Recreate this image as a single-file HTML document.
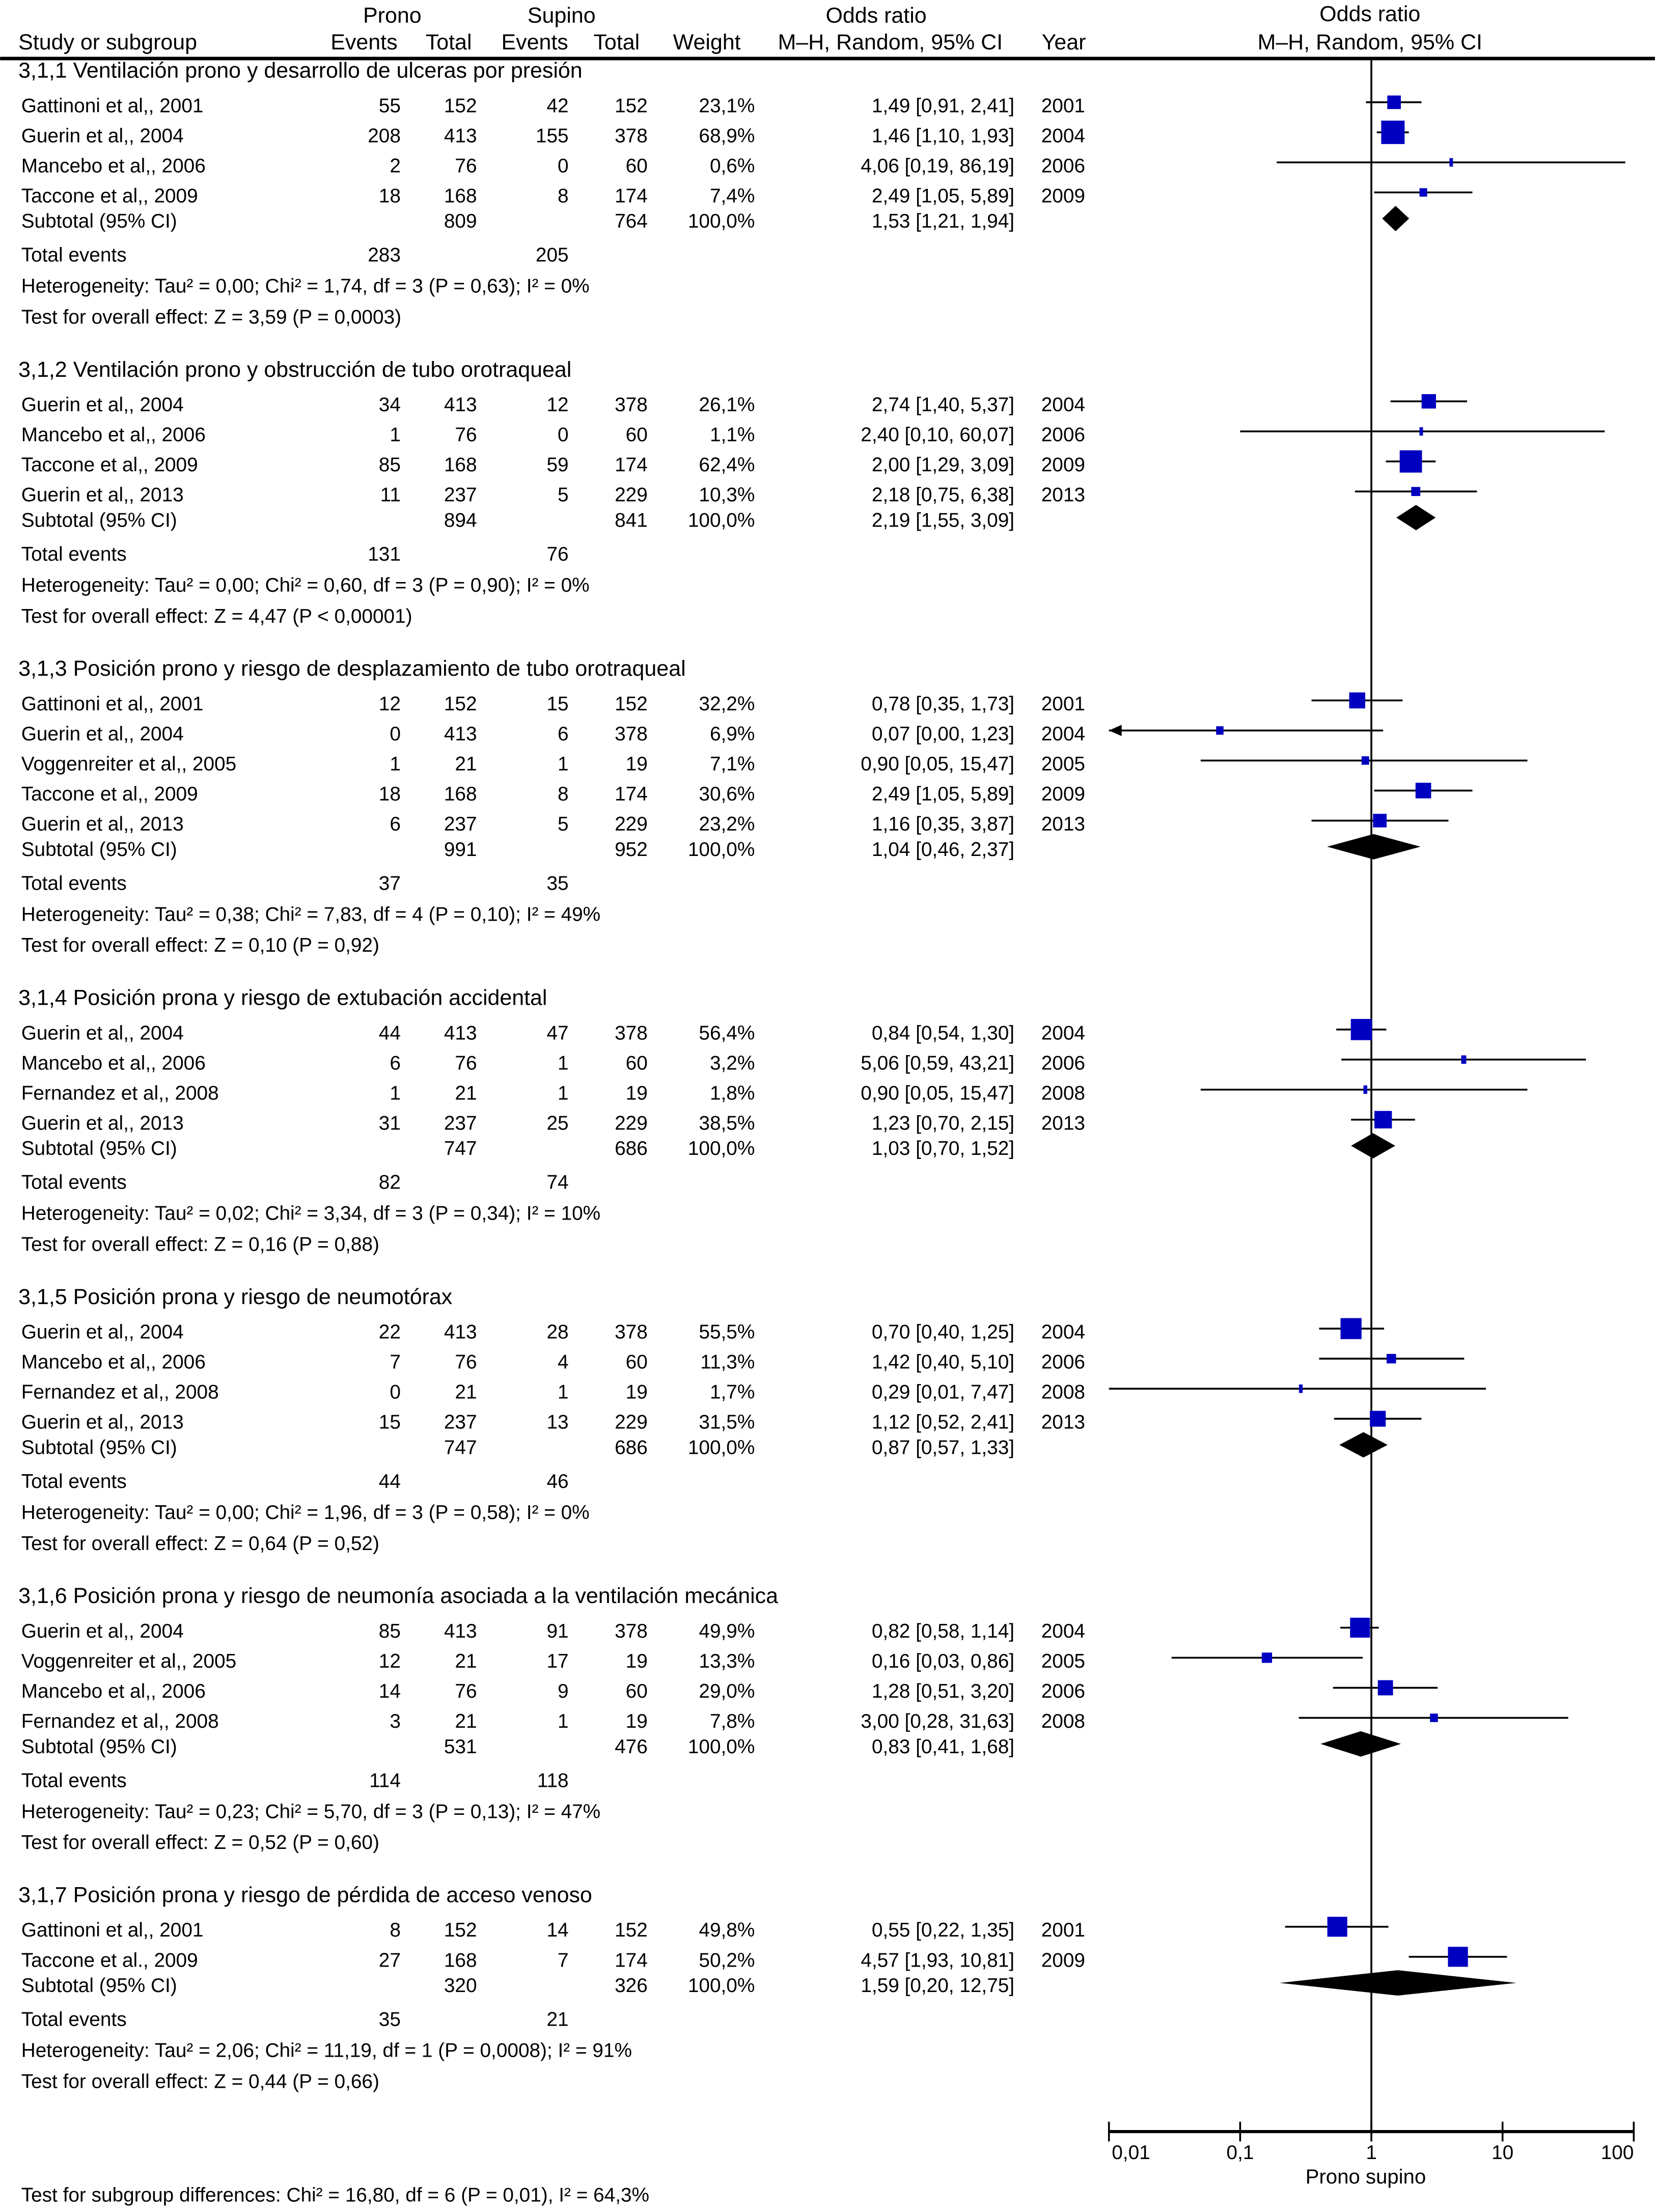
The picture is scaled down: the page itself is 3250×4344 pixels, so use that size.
<!DOCTYPE html>
<html><head><meta charset="utf-8">
<style>
html,body{margin:0;padding:0;background:#fff;}
svg{display:block;}
text{font-family:"Liberation Sans",Arial,sans-serif;fill:#000;}
</style></head>
<body>
<svg id="chart" width="3250" height="4344" viewBox="0 0 1173 1568" xmlns="http://www.w3.org/2000/svg">
<g id="hdr" font-size="15.5">
<text x="278" y="11" text-anchor="middle" dominant-baseline="central">Prono</text>
<text x="398" y="11" text-anchor="middle" dominant-baseline="central">Supino</text>
<text x="621" y="11" text-anchor="middle" dominant-baseline="central">Odds ratio</text>
<text x="971" y="10" text-anchor="middle" dominant-baseline="central">Odds ratio</text>
<text x="13" y="30" dominant-baseline="central">Study or subgroup</text>
<text x="258" y="30" text-anchor="middle" dominant-baseline="central">Events</text>
<text x="318" y="30" text-anchor="middle" dominant-baseline="central">Total</text>
<text x="379" y="30" text-anchor="middle" dominant-baseline="central">Events</text>
<text x="437" y="30" text-anchor="middle" dominant-baseline="central">Total</text>
<text x="501" y="30" text-anchor="middle" dominant-baseline="central">Weight</text>
<text x="631" y="30" text-anchor="middle" dominant-baseline="central">M–H, Random, 95% CI</text>
<text x="754" y="30" text-anchor="middle" dominant-baseline="central">Year</text>
<text x="971" y="30" text-anchor="middle" dominant-baseline="central">M–H, Random, 95% CI</text>
</g>
<line x1="0" y1="41.5" x2="1173" y2="41.5" stroke="#000" stroke-width="2.5"/>
<line x1="972" y1="41" x2="972" y2="1511" stroke="#000" stroke-width="1.3"/>
<g id="body"></g>
<g id="axis"></g>
<text x="968" y="1543" text-anchor="middle" dominant-baseline="central" font-size="14.5">Prono supino</text>
<text x="15" y="1556" dominant-baseline="central" font-size="14">Test for subgroup differences: Chi² = 16,80, df = 6 (P = 0,01), I² = 64,3%</text>
</svg>
<script>
const groupTitles = ["3,1,1 Ventilación prono y desarrollo de ulceras por presión","3,1,2 Ventilación prono y obstrucción de tubo orotraqueal","3,1,3 Posición prono y riesgo de desplazamiento de tubo orotraqueal","3,1,4 Posición prona y riesgo de extubación accidental","3,1,5 Posición prona y riesgo de neumotórax","3,1,6 Posición prona y riesgo de neumonía asociada a la ventilación mecánica","3,1,7 Posición prona y riesgo de pérdida de acceso venoso"];
const studyGroup = [0,0,0,0, 1,1,1,1, 2,2,2,2,2, 3,3,3,3, 4,4,4,4, 5,5,5,5, 6,6];
const studyNames = ["Gattinoni et al,, 2001","Guerin et al,, 2004","Mancebo et al,, 2006","Taccone et al,, 2009",
"Guerin et al,, 2004","Mancebo et al,, 2006","Taccone et al,, 2009","Guerin et al,, 2013",
"Gattinoni et al,, 2001","Guerin et al,, 2004","Voggenreiter et al,,  2005","Taccone et al,, 2009","Guerin et al,, 2013",
"Guerin et al,, 2004","Mancebo et al,, 2006","Fernandez et al,, 2008","Guerin et al,, 2013",
"Guerin et al,, 2004","Mancebo et al,, 2006","Fernandez et al,, 2008","Guerin et al,, 2013",
"Guerin et al,, 2004","Voggenreiter et al,, 2005","Mancebo et al,, 2006","Fernandez et al,, 2008",
"Gattinoni et al,, 2001","Taccone et al., 2009"];
const pronoEvents = [55,208,2,18, 34,1,85,11, 12,0,1,18,6, 44,6,1,31, 22,7,0,15, 85,12,14,3, 8,27];
const pronoTotal = [152,413,76,168, 413,76,168,237, 152,413,21,168,237, 413,76,21,237, 413,76,21,237, 413,21,76,21, 152,168];
const supinoEvents = [42,155,0,8, 12,0,59,5, 15,6,1,8,5, 47,1,1,25, 28,4,1,13, 91,17,9,1, 14,7];
const supinoTotal = [152,378,60,174, 378,60,174,229, 152,378,19,174,229, 378,60,19,229, 378,60,19,229, 378,19,60,19, 152,174];
const weights = [23.1,68.9,0.6,7.4, 26.1,1.1,62.4,10.3, 32.2,6.9,7.1,30.6,23.2, 56.4,3.2,1.8,38.5, 55.5,11.3,1.7,31.5, 49.9,13.3,29.0,7.8, 49.8,50.2];
const orValues = [1.49,1.46,4.06,2.49, 2.74,2.40,2.00,2.18, 0.78,0.07,0.90,2.49,1.16, 0.84,5.06,0.90,1.23, 0.70,1.42,0.29,1.12, 0.82,0.16,1.28,3.00, 0.55,4.57];
const ciLow = [0.91,1.10,0.19,1.05, 1.40,0.10,1.29,0.75, 0.35,0.00,0.05,1.05,0.35, 0.54,0.59,0.05,0.70, 0.40,0.40,0.01,0.52, 0.58,0.03,0.51,0.28, 0.22,1.93];
const ciHigh = [2.41,1.93,86.19,5.89, 5.37,60.07,3.09,6.38, 1.73,1.23,15.47,5.89,3.87, 1.30,43.21,15.47,2.15, 1.25,5.10,7.47,2.41, 1.14,0.86,3.20,31.63, 1.35,10.81];
const years = [2001,2004,2006,2009, 2004,2006,2009,2013, 2001,2004,2005,2009,2013, 2004,2006,2008,2013, 2004,2006,2008,2013, 2004,2005,2006,2008, 2001,2009];
const subPronoTotal = [809,894,991,747,747,531,320];
const subSupinoTotal = [764,841,952,686,686,476,326];
const subOR = [1.53,2.19,1.04,1.03,0.87,0.83,1.59];
const subLow = [1.21,1.55,0.46,0.70,0.57,0.41,0.20];
const subHigh = [1.94,3.09,2.37,1.52,1.33,1.68,12.75];
const totalPronoEvents = [283,131,37,82,44,114,35];
const totalSupinoEvents = [205,76,35,74,46,118,21];
const heteroText = ["Tau² = 0,00; Chi² = 1,74, df = 3 (P = 0,63); I² = 0%","Tau² = 0,00; Chi² = 0,60, df = 3 (P = 0,90); I² = 0%","Tau² = 0,38; Chi² = 7,83, df = 4 (P = 0,10); I² = 49%","Tau² = 0,02; Chi² = 3,34, df = 3 (P = 0,34); I² = 10%","Tau² = 0,00; Chi² = 1,96, df = 3 (P = 0,58); I² = 0%","Tau² = 0,23; Chi² = 5,70, df = 3 (P = 0,13); I² = 47%","Tau² = 2,06; Chi² = 11,19, df = 1 (P = 0,0008); I² = 91%"];
const overallText = ["Z = 3,59 (P = 0,0003)","Z = 4,47 (P < 0,00001)","Z = 0,10 (P = 0,92)","Z = 0,16 (P = 0,88)","Z = 0,64 (P = 0,52)","Z = 0,52 (P = 0,60)","Z = 0,44 (P = 0,66)"];
const axisTicks = [0.01,0.1,1,10,100];
const axisTickLabels = ["0,01","0,1","1","10","100"];

const NS="http://www.w3.org/2000/svg";
const body=document.getElementById('body');
const xMin=786, xMax=1158;
function xs(v){return 972+Math.log10(v)*93;}
function cx(v){return Math.max(xMin,Math.min(xMax,v<=0?-1e9:xs(v)));}
function f2(v){return v.toFixed(2).replace('.',',');}
function mk(tag,attrs,parent){const e=document.createElementNS(NS,tag);for(const k in attrs)e.setAttribute(k,attrs[k]);(parent||body).appendChild(e);return e;}
function txt(x,y,s,anchor,parent,size){const t=mk('text',{x:x,y:y,'dominant-baseline':'central','font-size':size||14,'text-anchor':anchor||'start'},parent);t.textContent=s;return t;}

let y=50;
const step=21.3;
for(let g=0;g<groupTitles.length;g++){
  const grp=mk('g',{});
  
  
  const tt=txt(13,y,groupTitles[g],'start',grp,15.5);
  
  
  let sy=y+25;
  for(let i=0;i<studyNames.length;i++){
    if(studyGroup[i]!==g) continue;
    const row=mk('g',{},grp);
    
    
    txt(15,sy,studyNames[i],'start',row);
    txt(284,sy,String(pronoEvents[i]),'end',row);
    txt(338,sy,String(pronoTotal[i]),'end',row);
    txt(403,sy,String(supinoEvents[i]),'end',row);
    txt(459,sy,String(supinoTotal[i]),'end',row);
    txt(535,sy,weights[i].toFixed(1).replace('.',',')+'%','end',row);
    txt(719,sy,f2(orValues[i])+' ['+f2(ciLow[i])+', '+f2(ciHigh[i])+']','end',row);
    txt(738,sy,String(years[i]),'start',row);
    const my=sy-2.5;
    const x1=cx(ciLow[i]), x2=cx(ciHigh[i]);
    const ci=mk('line',{x1:x1,y1:my,x2:x2,y2:my,stroke:'#000','stroke-width':1.3},row);
    
    
    if(ciLow[i]<0.005){
      const ar=mk('path',{d:`M${xMin} ${my} l9 -4 v8 z`,fill:'#000'},row);
      
      
    }
    const s=Math.max(2.5,Math.sqrt(weights[i])*2.0);
    const sq=mk('rect',{x:xs(orValues[i])-s/2,y:my-Math.max(s,6)/2,width:s,height:Math.max(s,6),fill:'#0000c0'},row);
    
    
    sy+=step;
  }
  sy=sy-step+18;
  txt(15,sy,'Subtotal (95% CI)','start',grp);
  txt(338,sy,String(subPronoTotal[g]),'end',grp);
  txt(459,sy,String(subSupinoTotal[g]),'end',grp);
  txt(535,sy,'100,0%','end',grp);
  txt(719,sy,f2(subOR[g])+' ['+f2(subLow[g])+', '+f2(subHigh[g])+']','end',grp);
  const dy=sy-2, l=cx(subLow[g]), h=cx(subHigh[g]), m=xs(subOR[g]);
  const dm=mk('path',{d:`M${l} ${dy} L${m} ${dy-9} L${h} ${dy} L${m} ${dy+9} Z`,fill:'#000'},grp);
  
  
  sy+=24;
  txt(15,sy,'Total events','start',grp);
  txt(284,sy,String(totalPronoEvents[g]),'end',grp);
  txt(403,sy,String(totalSupinoEvents[g]),'end',grp);
  sy+=22;
  txt(15,sy,'Heterogeneity: '+heteroText[g],'start',grp);
  sy+=22;
  txt(15,sy,'Test for overall effect: '+overallText[g],'start',grp);
  y=sy+37.1;
}

const ax=document.getElementById('axis');
const al=mk('line',{x1:xs(axisTicks[0]),y1:1511,x2:xs(axisTicks[axisTicks.length-1]),y2:1511,stroke:'#000','stroke-width':2.2},ax);


for(let i=0;i<axisTicks.length;i++){
  const x=xs(axisTicks[i]);
  const tk=mk('line',{x1:x,y1:1504,x2:x,y2:1518,stroke:'#000','stroke-width':1.3},ax);
  
  
  const lb=txt(i===0?x+2:x,1526,axisTickLabels[i],i===0?'start':(i===axisTicks.length-1?'end':'middle'),ax,14);
  
  
}
</script>
</body></html>
